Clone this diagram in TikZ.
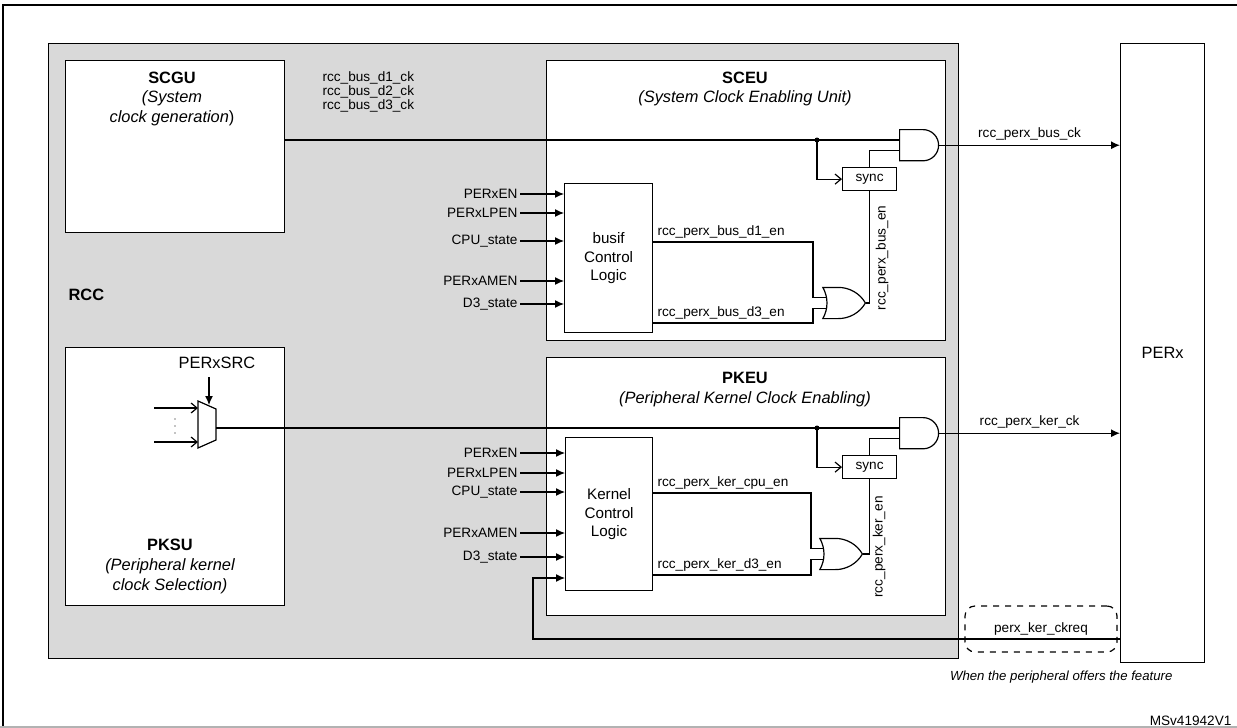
\documentclass[tikz,border=0pt]{standalone}
\usepackage{fontspec}
\setmainfont{Liberation Sans}
\usetikzlibrary{arrows.meta,shapes.gates.logic.US}

\tikzset{
	blk/.style = {draw, fill=white, line width=0.6pt, inner sep=0pt, anchor=north west},
	sig/.style = {font=\fontsize{6.8}{8}\selectfont, inner sep=1pt},
	ttl/.style = {font=\fontsize{8.2}{10}\selectfont, inner sep=0pt},
	gate/.style = {draw, fill=white, line width=0.6pt, inner sep=0pt, minimum height=14.5pt, minimum width=18pt},
	inarr/.style = {-{Latex[length=4.5pt,width=4pt]}, line width=0.6pt},
	barb/.style = {-{Straight Barb[length=3pt,width=5pt]}, line width=0.6pt},
}

\begin{document}
\begin{tikzpicture}[x=0.5pt, y=-0.5pt, line width=0.6pt]
			\useasboundingbox (0,0) rectangle (1237,728);
			% outer frame
			\draw[line width=0.8pt] (3,727) -- (3,5) -- (1237,5);
			\draw[gray!60] (0,727) -- (1237,727);
			% boxes
			\node[blk, fill=gray!30, minimum width=455pt, minimum height=307.5pt] (rcc) at (48,43) {};
			\node[blk, minimum width=109.5pt, minimum height=86pt] (scgu) at (65,60) {};
			\node[blk, minimum width=109.5pt, minimum height=129pt] (pksu) at (65,347) {};
			\node[blk, minimum width=199.5pt, minimum height=140pt] (sceu) at (546,60) {};
			\node[blk, minimum width=199.5pt, minimum height=129pt] (pkeu) at (546,357) {};
			\node[blk, minimum width=44pt, minimum height=74.5pt] (busif) at (564,183) {};
			\node[blk, minimum width=43.5pt, minimum height=76.5pt] (kernel) at (565,437) {};
			\node[blk, minimum width=27pt, minimum height=11.5pt] (sync1) at (842,167) {};
			\node[blk, minimum width=27pt, minimum height=11.5pt] (sync2) at (842,455) {};
			\node[blk, minimum width=42pt, minimum height=309.5pt] (perx) at (1120,43) {};
			% box texts
			\node[ttl] at (172,78) {\bfseries SCGU};
			\node[ttl] at (172,98) {\itshape (System};
			\node[ttl] at (172,118) {\itshape clock generation\upshape)};
			\node[ttl] at (745,78) {\bfseries SCEU};
			\node[ttl] at (745,98) {\itshape (System Clock Enabling Unit)};
			\node[ttl] at (745,378) {\bfseries PKEU};
			\node[ttl] at (745,399) {\itshape (Peripheral Kernel Clock Enabling)};
			\node[ttl] at (170,545) {\bfseries PKSU};
			\node[ttl] at (170,566) {\itshape (Peripheral kernel};
			\node[ttl] at (170,586) {\itshape clock Selection)};
			\node[ttl, anchor=west] at (68,295) {\bfseries RCC};
			\node[ttl, align=center, font=\fontsize{7.6}{9.4}\selectfont] at (busif.center) {busif\\Control\\Logic};
			\node[ttl, align=center, font=\fontsize{7.6}{9.4}\selectfont] at (kernel.center) {Kernel\\Control\\Logic};
			\node[sig] at (sync1.center) {sync};
			\node[sig] at (sync2.center) {sync};
			\node[ttl] at (perx.center) {PERx};
			% gates
			\node[and gate US, gate, anchor=input 1] (and1) at (899,140) {};
			\node[and gate US, gate, anchor=input 1] (and2) at (899,428) {};
			\node[or gate US, gate] (or1) at (841,303) {};
			\node[or gate US, gate] (or2) at (838,554) {};
			% bus clock
			\coordinate (tap1) at (817,140);
			\draw (scgu.east |- tap1) -- (tap1) -- (and1.input 1);
			\fill (tap1) circle (2.5);
			\draw[barb] (tap1) |- (sync1.west);
			\draw (sync1.north) |- (and1.input 2);
			\draw[inarr] (and1.output) -- (and1.output -| perx.west) node[sig, midway, above=1pt] {rcc\_perx\_bus\_ck};
			\foreach \y/\t in {78/d1, 92/d2, 106/d3}
				\node[sig, anchor=west] at (320,\y) {rcc\_bus\_\t\_ck};
			% busif inputs
			\foreach \y/\t in {194/PERxEN, 213/PERxLPEN, 241/CPU\_state, 281/PERxAMEN, 304/D3\_state}
				\draw[inarr] (520,\y) node[sig, anchor=east] {\t} -- (busif.west |- 0,\y);
			\draw (busif.east |- 0,242) -- (813,242) |- (or1.input 1);
			\draw (busif.east |- 0,323) -- (813,323) |- (or1.input 2);
			\node[sig, anchor=south west] at (655,241) {rcc\_perx\_bus\_d1\_en};
			\node[sig, anchor=south west] at (655,322) {rcc\_perx\_bus\_d3\_en};
			\draw (or1.output) -| (sync1.south);
			\node[sig, rotate=90] at (882,258) {rcc\_perx\_bus\_en};
			% mux
			\draw[fill=white] (198,401) coordinate (mux) -- (216,409) -- (216,440) -- (198,448) -- cycle;
			\coordinate (muxout) at (216,428);
			\node[ttl] (src) at (217,363) {PERxSRC};
			\draw[inarr] (209,377) -- (209,405);
			\draw[barb] (154,408) -- (198,408);
			\draw[barb] (154,442) -- (198,442);
			\foreach \y in {419,426,433}
				\fill (175,\y) circle (0.6);
			% kernel clock
			\coordinate (tap2) at (817,428);
			\draw (muxout) -- (tap2) -- (and2.input 1);
			\fill (tap2) circle (2.5);
			\draw[barb] (tap2) |- (sync2.west);
			\draw (sync2.north) |- (and2.input 2);
			\draw[inarr] (and2.output) -- (and2.output -| perx.west) node[sig, midway, above=1pt] {rcc\_perx\_ker\_ck};
			% kernel inputs
			\foreach \y/\t in {453/PERxEN, 473/PERxLPEN, 492/CPU\_state, 533/PERxAMEN, 557/D3\_state}
				\draw[inarr] (520,\y) node[sig, anchor=east] {\t} -- (kernel.west |- 0,\y);
			\draw (kernel.east |- 0,493) -- (811,493) |- (or2.input 1);
			\draw (kernel.east |- 0,575) -- (811,575) |- (or2.input 2);
			\node[sig, anchor=south west] at (655,492) {rcc\_perx\_ker\_cpu\_en};
			\node[sig, anchor=south west] at (655,574) {rcc\_perx\_ker\_d3\_en};
			\draw (or2.output) -| (sync2.south);
			\node[sig, rotate=90] at (879,547) {rcc\_perx\_ker\_en};
			% clock request
			\draw[inarr] (perx.west |- 0,639) -- (533,639) -- (533,578) -- (kernel.west |- 0,578);
			\node[draw, dashed, rounded corners=5pt, minimum width=76pt, minimum height=23pt, sig] (ckreq) at (1041,629) {perx\_ker\_ckreq};
			% notes
			\node[sig, anchor=east, font=\fontsize{6.6}{8}\selectfont\itshape] at (1175,677) {When the peripheral offers the feature};
			\node[sig, anchor=east] at (1234,721) {MSv41942V1};
		\end{tikzpicture}
\end{document}
